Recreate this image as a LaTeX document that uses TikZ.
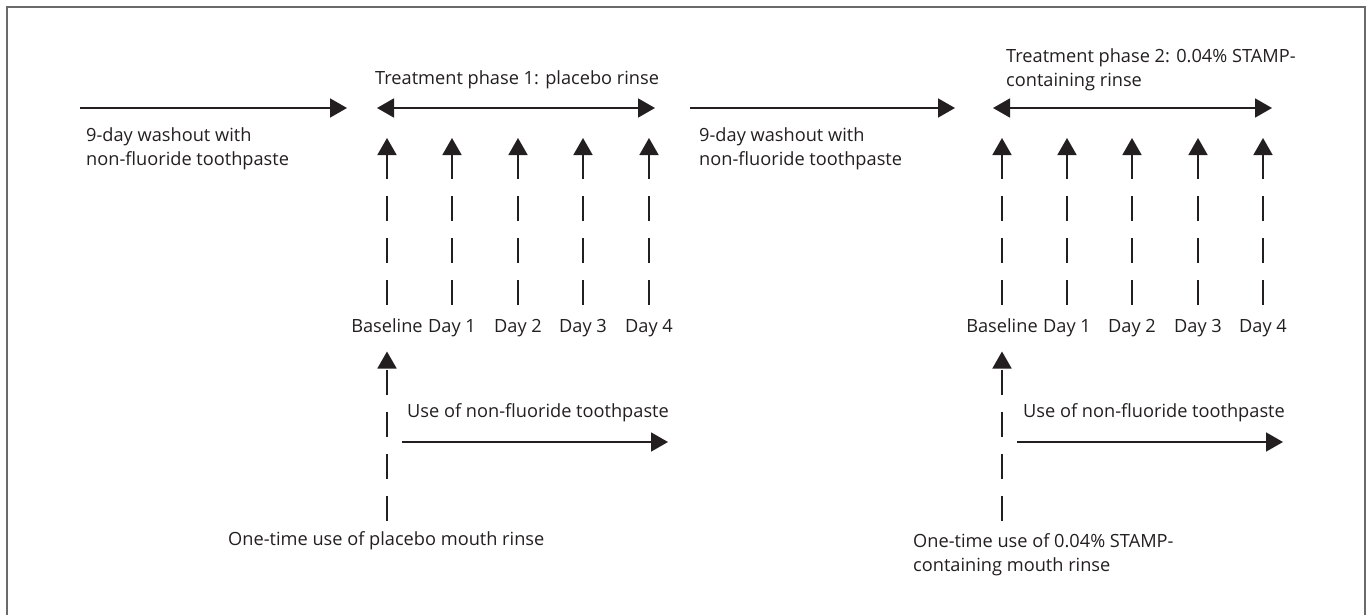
\documentclass[tikz,border=0pt]{standalone}
\usepackage{fontspec}
\setmainfont{Open Sans}
\usetikzlibrary{arrows.meta}
\definecolor{ink}{HTML}{231F20}
\definecolor{framec}{HTML}{6A6A6A}
\newcommand{\txtfont}{\fontsize{18.2}{24}\selectfont}
\tikzset{
  txt/.style={inner sep=0pt, text=ink, font=\txtfont, align=left},
  daylbl/.style={inner sep=0pt, text=ink, font=\txtfont, text height=12pt, text depth=3pt, outer ysep=16pt},
  harrow/.style={draw=ink, line width=1.8pt, -{Triangle[width=19pt,length=17pt]}},
  darrow/.style={draw=ink, line width=1.8pt, {Triangle[width=19pt,length=17pt]}-{Triangle[width=19pt,length=17pt]}},
  uparrow/.style={draw=ink, line width=1.8pt, dash pattern=on 25pt off 17pt, -{Triangle[width=19pt,length=17pt]}},
}
\begin{document}
\begin{tikzpicture}[x=1pt,y=-1pt]
\useasboundingbox (0,0) rectangle (1367,615);
% frame
\draw[framec, line width=1.6pt] (7,620) -- (7,7) -- (1365,7) -- (1365,620);

% ---------- washout 1 ----------
\coordinate (w1s) at (80,108);
\coordinate (w1e) at (347,108);
\draw[harrow] (w1s) -- (w1e);
\node[txt, anchor=base west] (w1t) at (86,165.5) {9-day washout with\\non-fluoride toothpaste};

% ---------- phase 1 ----------
\coordinate (p1s) at (377,108);
\coordinate (p1e) at (655,108);
\draw[darrow] (p1s) -- (p1e);
\node[txt, anchor=mid west] (p1t) at (375,82) {Treatment phase 1: placebo rinse};

\node[daylbl] (a0) at (387,328) {Baseline};
\node[daylbl] (a1) at (452,328) {Day 1};
\node[daylbl] (a2) at (518,328) {Day 2};
\node[daylbl] (a3) at (583,328) {Day 3};
\node[daylbl] (a4) at (649,328) {Day 4};
\foreach \i in {0,...,4}{
  \coordinate (at\i) at (a\i.north |- 0,138);
  \draw[uparrow] (a\i.north) -- (at\i);
}
\coordinate (r1b) at (387,521);
\draw[uparrow] (r1b) -- (a0.south);
\node[txt, anchor=mid west] (u1t) at (407,415) {Use of non-fluoride toothpaste};
\coordinate (u1s) at (402,442);
\coordinate (u1e) at (668,442);
\draw[harrow] (u1s) -- (u1e);
\node[txt, anchor=mid west] (o1t) at (228,543) {One-time use of placebo mouth rinse};

% ---------- washout 2 ----------
\coordinate (w2s) at (690,108);
\coordinate (w2e) at (955,108);
\draw[harrow] (w2s) -- (w2e);
\node[txt, anchor=base west] (w2t) at (699,165.5) {9-day washout with\\non-fluoride toothpaste};

% ---------- phase 2 ----------
\coordinate (p2s) at (993,108);
\coordinate (p2e) at (1272,108);
\draw[darrow] (p2s) -- (p2e);
\node[txt, anchor=base west] (p2t) at (1006,86.5) {Treatment phase 2: 0.04\% STAMP-\\containing rinse};

\node[daylbl] (b0) at (1002,328) {Baseline};
\node[daylbl] (b1) at (1067,328) {Day 1};
\node[daylbl] (b2) at (1132,328) {Day 2};
\node[daylbl] (b3) at (1198,328) {Day 3};
\node[daylbl] (b4) at (1263,328) {Day 4};
\foreach \i in {0,...,4}{
  \coordinate (bt\i) at (b\i.north |- 0,138);
  \draw[uparrow] (b\i.north) -- (bt\i);
}
\coordinate (r2b) at (1002,521);
\draw[uparrow] (r2b) -- (b0.south);
\node[txt, anchor=mid west] (u2t) at (1023,415) {Use of non-fluoride toothpaste};
\coordinate (u2s) at (1017,442);
\coordinate (u2e) at (1283,442);
\draw[harrow] (u2s) -- (u2e);
\node[txt, anchor=base west] (o2t) at (913,571.5) {One-time use of 0.04\% STAMP-\\containing mouth rinse};
\end{tikzpicture}
\end{document}
